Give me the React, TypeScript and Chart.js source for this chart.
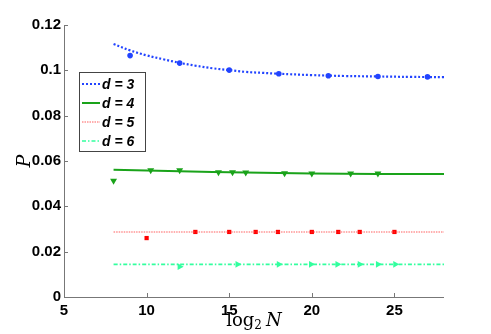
import React, { useEffect, useRef } from "react";
import { Chart, registerables } from "chart.js";

Chart.register(...registerables);

// Axis ticks
const xTicks = [5, 10, 15, 20, 25];
const yTicks = [0, 0.02, 0.04, 0.06, 0.08, 0.1, 0.12];
const yTickLabels = ["0", "0.02", "0.04", "0.06", "0.08", "0.1", "0.12"];

// Fitted curves
const fit3X = [8, 9, 10, 11, 12, 13, 14, 15, 16, 17, 18, 20, 22, 24, 26, 28];
const fit3Y = [0.1116, 0.1088, 0.1066, 0.1049, 0.1033, 0.102, 0.1009, 0.1001, 0.0993, 0.0989, 0.0985, 0.0979, 0.0975, 0.0973, 0.0971, 0.097];
const fit4X = [8, 12, 16, 20, 24, 28];
const fit4Y = [0.0561, 0.0555, 0.0549, 0.0545, 0.0543, 0.0543];
const fit5X = [8, 28];
const fit5Y = [0.0287, 0.0287];
const fit6X = [8, 28];
const fit6Y = [0.0144, 0.0144];

// Simulation points
const pts3X = [9, 12, 15, 18, 21, 24, 27];
const pts3Y = [0.1065, 0.1032, 0.1001, 0.0985, 0.0976, 0.0973, 0.0971];
const pts4X = [8, 10.25, 12, 14.35, 15.2, 16, 18.35, 20, 22.35, 24];
const pts4Y = [0.0513, 0.0559, 0.0559, 0.055, 0.055, 0.0549, 0.0546, 0.0545, 0.0545, 0.0545];
const pts5X = [10, 12.95, 15, 16.6, 17.95, 20, 21.6, 22.9, 25];
const pts5Y = [0.026, 0.0287, 0.0287, 0.0287, 0.0287, 0.0287, 0.0287, 0.0287, 0.0287];
const pts6X = [12, 15.5, 18, 19.95, 21.55, 22.9, 24, 25.05];
const pts6Y = [0.0134, 0.0144, 0.0144, 0.0144, 0.0144, 0.0144, 0.0144, 0.0144];

const legendLabels = ["d = 3", "d = 4", "d = 5", "d = 6"];

const BLUE = "#2244ff";
const GREEN = "#1aa31a";
const RED = "#ff0000";
const CYAN = "#33ff9f";

const zip = (xs: number[], ys: number[]) => xs.map((x, i) => ({ x, y: ys[i] }));

const lineStyles = [
  { color: BLUE, width: 2.2, dash: [2, 2] },
  { color: GREEN, width: 2, dash: [] as number[] },
  { color: "rgba(255,60,60,0.55)", width: 1.5, dash: [1.5, 1] },
  { color: CYAN, width: 1.6, dash: [4, 2, 1.5, 2] },
];

const TICK_FONT = { family: "'Liberation Sans', Arial, sans-serif", size: 15, weight: "bold" as const };

const legendPlugin = {
  id: "customLegend",
  afterDraw(chart: any) {
    const ctx = chart.ctx;
    const bx = 79.5, by = 72.5, bw = 66, bh = 79;
    ctx.save();
    ctx.fillStyle = "#fff";
    ctx.fillRect(bx, by, bw, bh);
    ctx.strokeStyle = "#444";
    ctx.lineWidth = 1;
    ctx.setLineDash([]);
    ctx.strokeRect(bx, by, bw, bh);
    const rows = [84, 103, 122, 141];
    legendLabels.forEach((lab, i) => {
      const s = lineStyles[i];
      ctx.beginPath();
      ctx.strokeStyle = s.color;
      ctx.lineWidth = s.width;
      ctx.setLineDash(s.dash);
      ctx.moveTo(82, rows[i]);
      ctx.lineTo(100, rows[i]);
      ctx.stroke();
      ctx.setLineDash([]);
      ctx.fillStyle = "#000";
      ctx.font = "italic bold 14px 'Liberation Sans', Arial, sans-serif";
      ctx.textBaseline = "middle";
      ctx.textAlign = "left";
      ctx.fillText(lab, 102, rows[i] + 1);
    });
    ctx.restore();
  },
};

const axisPlugin = {
  id: "axisDecor",
  afterDraw(chart: any) {
    const ctx = chart.ctx;
    const xs = chart.scales.x;
    const ys = chart.scales.y;
    const area = chart.chartArea;
    ctx.save();
    ctx.strokeStyle = "#777";
    ctx.lineWidth = 1;
    ctx.beginPath();
    ctx.moveTo(area.left + 0.5, area.top);
    ctx.lineTo(area.left + 0.5, area.bottom + 0.5);
    ctx.lineTo(area.right, area.bottom + 0.5);
    yTicks.forEach((v) => {
      const py = Math.round(ys.getPixelForValue(v)) + 0.5;
      ctx.moveTo(area.left, py);
      ctx.lineTo(area.left + 4, py);
    });
    xTicks.forEach((v) => {
      const px = Math.round(xs.getPixelForValue(v)) + 0.5;
      ctx.moveTo(px, area.bottom);
      ctx.lineTo(px, area.bottom - 4);
    });
    ctx.stroke();
    // x title: log_2 N
    const cx = (area.left + area.right) / 2;
    const base = 326;
    ctx.fillStyle = "#000";
    ctx.textBaseline = "alphabetic";
    ctx.textAlign = "left";
    const f1 = "18px 'DejaVu Serif', 'Liberation Serif', serif";
    const f2 = "12px 'DejaVu Serif', 'Liberation Serif', serif";
    const f3 = "italic 18px 'DejaVu Serif', 'Liberation Serif', serif";
    ctx.font = f1;
    const w1 = ctx.measureText("log").width;
    ctx.font = f2;
    const w2 = ctx.measureText("2").width;
    ctx.font = f3;
    const w3 = ctx.measureText("N").width;
    const total = w1 + w2 + 4 + w3;
    let x0 = cx - total / 2;
    ctx.font = f1;
    ctx.fillText("log", x0, base);
    x0 += w1;
    ctx.font = f2;
    ctx.fillText("2", x0, base + 3);
    x0 += w2 + 4;
    ctx.font = f3;
    ctx.fillText("N", x0, base);
    // y title: P
    ctx.translate(25, (area.top + area.bottom) / 2);
    ctx.rotate(-Math.PI / 2);
    ctx.textAlign = "center";
    ctx.textBaseline = "middle";
    ctx.font = "italic 19px 'DejaVu Serif', 'Liberation Serif', serif";
    ctx.fillText("P", 0, 0);
    ctx.restore();
  },
};

export default function App() {
  const ref = useRef<HTMLCanvasElement>(null);
  useEffect(() => {
    document.body.style.margin = "0";
    const canvas = ref.current!;
    const lineDs = (xs: number[], ys: number[], i: number) => ({
      type: "line" as const,
      data: zip(xs, ys),
      borderColor: lineStyles[i].color,
      borderWidth: lineStyles[i].width,
      borderDash: lineStyles[i].dash,
      pointRadius: 0,
      tension: 0.4,
      fill: false,
    });
    const ptDs = (xs: number[], ys: number[], color: string, style: string, rot: number, r: number) => ({
      type: "scatter" as const,
      data: zip(xs, ys),
      backgroundColor: color,
      borderColor: color,
      borderWidth: 0,
      pointStyle: style,
      rotation: rot,
      pointRadius: r,
      showLine: false,
    });
    const chart = new Chart(canvas, {
      type: "scatter",
      data: {
        datasets: [
          lineDs(fit3X, fit3Y, 0),
          lineDs(fit4X, fit4Y, 1),
          lineDs(fit5X, fit5Y, 2),
          lineDs(fit6X, fit6Y, 3),
          ptDs(pts3X, pts3Y, BLUE, "circle", 0, 2.8),
          ptDs(pts4X, pts4Y, GREEN, "triangle", 180, 4),
          ptDs(pts5X, pts5Y, RED, "rect", 0, 3),
          ptDs(pts6X, pts6Y, CYAN, "triangle", 90, 4),
        ] as any,
      },
      options: {
        animation: false,
        responsive: false,
        layout: { padding: { top: 25, right: 47, left: 0, bottom: 0 } },
        plugins: { legend: { display: false }, tooltip: { enabled: false } },
        scales: {
          x: {
            type: "linear",
            min: 5,
            max: 28,
            afterBuildTicks: (s: any) => {
              s.ticks = xTicks.map((v) => ({ value: v }));
            },
            afterFit: (s: any) => {
              s.height = 37;
            },
            border: { display: false },
            grid: { display: false, drawTicks: false },
            ticks: {
              padding: 5,
              color: "#000",
              font: TICK_FONT,
              maxRotation: 0,
            },
          },
          y: {
            type: "linear",
            min: 0,
            max: 0.12,
            afterBuildTicks: (s: any) => {
              s.ticks = yTicks.map((v) => ({ value: v }));
            },
            afterFit: (s: any) => {
              s.width = 64;
            },
            border: { display: false },
            grid: { display: false, drawTicks: false },
            ticks: {
              padding: 3,
              color: "#000",
              font: TICK_FONT,
              callback: (v: any) => {
                const i = yTicks.findIndex((t) => Math.abs(t - Number(v)) < 1e-9);
                return i >= 0 ? yTickLabels[i] : "";
              },
            },
          },
        },
      },
      plugins: [axisPlugin, legendPlugin],
    });
    return () => chart.destroy();
  }, []);
  return <canvas ref={ref} width={491} height={334} style={{ display: "block" }} />;
}
